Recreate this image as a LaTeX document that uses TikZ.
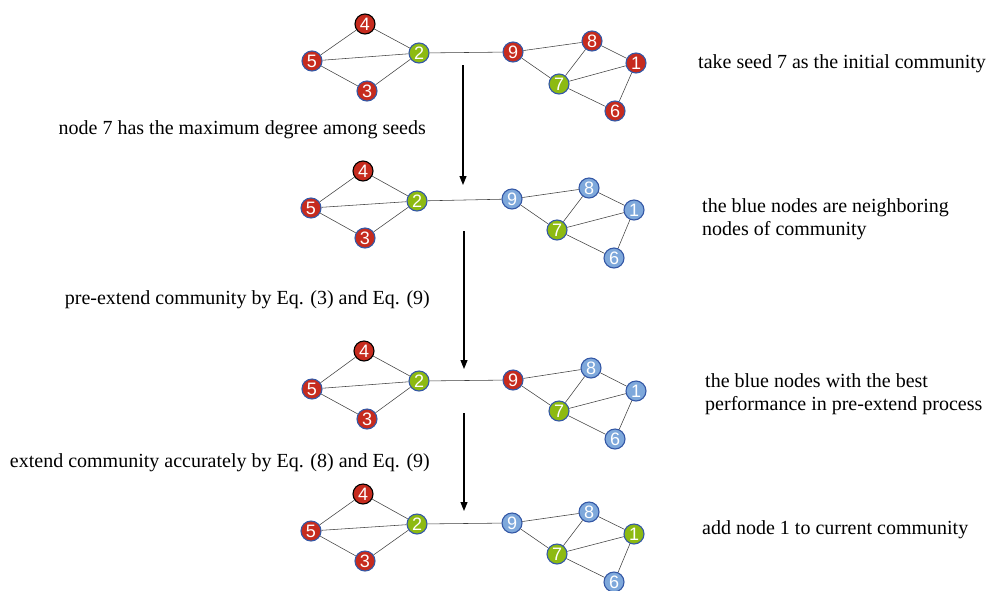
\documentclass[tikz,border=0pt]{standalone}
\usepackage{fontspec}
\setmainfont{Liberation Serif}
\newfontfamily\nodefont{Liberation Sans}
\usetikzlibrary{arrows.meta}
\definecolor{cred}{HTML}{C62B1E}
\definecolor{cgreen}{HTML}{8DBA12}
\definecolor{cblue}{HTML}{7EA8DB}
\definecolor{cborder}{HTML}{3458A6}
\begin{document}
\begin{tikzpicture}[x=1pt,y=-1pt,
  vtx/.style={circle,draw=cborder,line width=1.1pt,minimum size=20pt,inner sep=0pt,
    text=white,font=\nodefont\fontsize{18}{18}\selectfont},
  rv/.style={vtx,fill=cred},
  rk/.style={vtx,fill=cred,draw=black},
  gv/.style={vtx,fill=cgreen},
  bv/.style={vtx,fill=cblue},
  edge/.style={draw=black!75,line width=0.55pt},
  flow/.style={draw=black,line width=1.1pt,-{Triangle[length=9pt,width=7pt]}},
  lbl/.style={font=\fontsize{20}{23}\selectfont,inner sep=0pt,align=left}]
\useasboundingbox (0,0) rectangle (987,590);
% graph a
\node[rk] (a4) at (365,24) {4};
\node[rv] (a5) at (312,61) {5};
\node[gv] (a2) at (419,53) {2};
\node[rv] (a3) at (367,91) {3};
\node[rv] (a9) at (513,52) {9};
\node[rv] (a8) at (592,41) {8};
\node[rv] (a1) at (636,63) {1};
\node[gv] (a7) at (559,84) {7};
\node[rv] (a6) at (615,111) {6};
% graph b
\node[rk] (b4) at (363,171) {4};
\node[rv] (b5) at (311,208) {5};
\node[gv] (b2) at (417,201) {2};
\node[rv] (b3) at (365,238) {3};
\node[bv] (b9) at (512,199) {9};
\node[bv] (b8) at (589,188) {8};
\node[bv] (b1) at (634,210) {1};
\node[gv] (b7) at (557,230) {7};
\node[bv] (b6) at (614,258) {6};
% graph c
\node[rk] (c4) at (364,351) {4};
\node[rv] (c5) at (312,389) {5};
\node[gv] (c2) at (419,381) {2};
\node[rv] (c3) at (367,419) {3};
\node[rv] (c9) at (513,380) {9};
\node[bv] (c8) at (591,368) {8};
\node[bv] (c1) at (636,391) {1};
\node[gv] (c7) at (559,411) {7};
\node[bv] (c6) at (615,439) {6};
% graph d
\node[rk] (d4) at (363,494) {4};
\node[rv] (d5) at (311,531) {5};
\node[gv] (d2) at (417,524) {2};
\node[rv] (d3) at (365,561) {3};
\node[bv] (d9) at (512,523) {9};
\node[bv] (d8) at (589,512) {8};
\node[gv] (d1) at (634,534) {1};
\node[gv] (d7) at (557,554) {7};
\node[bv] (d6) at (614,582) {6};
% edges
\foreach \g in {a,b,c,d}{
  \foreach \u/\v in {4/5,4/2,5/2,5/3,3/2,2/9,9/8,9/7,8/7,8/1,7/1,7/6,1/6}{
    \draw[edge] (\g\u) -- (\g\v);
  }
}
% flow arrows
\coordinate (s1) at (463,65);  \coordinate (e1) at (463,185);
\coordinate (s2) at (464,231); \coordinate (e2) at (464,369);
\coordinate (s3) at (464,413); \coordinate (e3) at (464,511);
\draw[flow] (s1) -- (e1);
\draw[flow] (s2) -- (e2);
\draw[flow] (s3) -- (e3);
% texts
\node[lbl,anchor=west] (t1) at (698,64) {take seed 7 as the initial community};
\node[lbl,anchor=east] (t2) at (426,130) {node 7 has the maximum degree among seeds};
\node[lbl,anchor=west] (t3) at (702,219) {the blue nodes are neighboring\\nodes of community};
\node[lbl,anchor=east] (t4) at (430,300) {pre-extend community by Eq. (3) and Eq. (9)};
\node[lbl,anchor=west] (t5) at (705,394) {the blue nodes with the best\\performance in pre-extend process};
\node[lbl,anchor=east] (t6) at (430,463) {extend community accurately by Eq. (8) and Eq. (9)};
\node[lbl,anchor=west] (t7) at (702,530) {add node 1 to current community};
\end{tikzpicture}
\end{document}
